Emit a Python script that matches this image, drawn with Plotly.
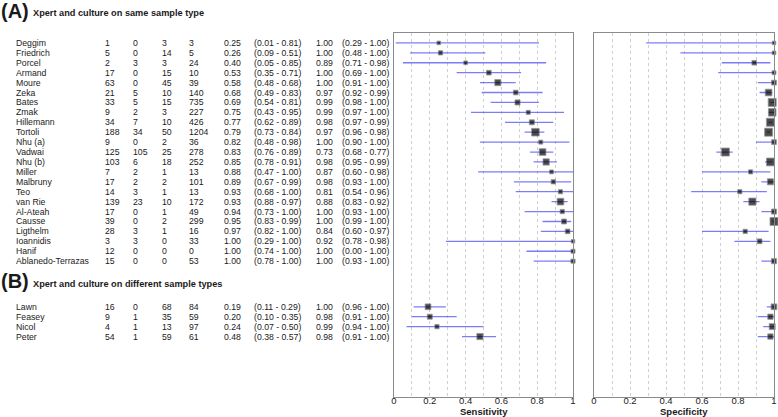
import math
import plotly.graph_objects as go

# ---------------- data ----------------
study_a = ["Deggim", "Friedrich", "Porcel", "Armand", "Moure", "Zeka", "Bates", "Zmak",
           "Hillemann", "Tortoli", "Nhu (a)", "Vadwai", "Nhu (b)", "Miller", "Malbruny",
           "Teo", "van Rie", "Al-Ateah", "Causse", "Ligthelm", "Ioannidis", "Hanif",
           "Ablanedo-Terrazas"]
tp_a = [1, 5, 2, 17, 63, 21, 33, 9, 34, 188, 9, 125, 103, 7, 17, 14, 139, 17, 39, 28, 3, 12, 15]
fp_a = [0, 0, 3, 0, 0, 5, 5, 2, 7, 34, 0, 105, 6, 2, 2, 3, 23, 0, 0, 3, 3, 0, 0]
fn_a = [3, 14, 3, 15, 45, 10, 15, 3, 10, 50, 2, 25, 18, 1, 2, 1, 10, 1, 2, 1, 0, 0, 0]
tn_a = [3, 5, 24, 10, 39, 140, 735, 227, 426, 1204, 36, 278, 252, 13, 101, 13, 172, 49, 299, 16, 33, 0, 53]
sens_a = [0.25, 0.26, 0.40, 0.53, 0.58, 0.68, 0.69, 0.75, 0.77, 0.79, 0.82, 0.83, 0.85, 0.88, 0.89,
          0.93, 0.93, 0.94, 0.95, 0.97, 1.00, 1.00, 1.00]
sens_lo_a = [0.01, 0.09, 0.05, 0.35, 0.48, 0.49, 0.54, 0.43, 0.62, 0.73, 0.48, 0.76, 0.78, 0.47, 0.67,
             0.68, 0.88, 0.73, 0.83, 0.82, 0.29, 0.74, 0.78]
sens_hi_a = [0.81, 0.51, 0.85, 0.71, 0.68, 0.83, 0.81, 0.95, 0.89, 0.84, 0.98, 0.89, 0.91, 1.00, 0.99,
             1.00, 0.97, 1.00, 0.99, 1.00, 1.00, 1.00, 1.00]
spec_a = [1.00, 1.00, 0.89, 1.00, 1.00, 0.97, 0.99, 0.99, 0.98, 0.97, 1.00, 0.73, 0.98, 0.87, 0.98,
          0.81, 0.88, 1.00, 1.00, 0.84, 0.92, 1.00, 1.00]
spec_lo_a = [0.29, 0.48, 0.71, 0.69, 0.91, 0.92, 0.98, 0.97, 0.97, 0.96, 0.90, 0.68, 0.95, 0.60, 0.93,
             0.54, 0.83, 0.93, 0.99, 0.60, 0.78, 0.00, 0.93]
spec_hi_a = [1.00, 1.00, 0.98, 1.00, 1.00, 0.99, 1.00, 1.00, 0.99, 0.98, 1.00, 0.77, 0.99, 0.98, 1.00,
             0.96, 0.92, 1.00, 1.00, 0.97, 0.98, 1.00, 1.00]

study_b = ["Lawn", "Feasey", "Nicol", "Peter"]
tp_b = [16, 9, 4, 54]
fp_b = [0, 1, 1, 1]
fn_b = [68, 35, 13, 59]
tn_b = [84, 59, 97, 61]
sens_b = [0.19, 0.20, 0.24, 0.48]
sens_lo_b = [0.11, 0.10, 0.07, 0.38]
sens_hi_b = [0.29, 0.35, 0.50, 0.57]
spec_b = [1.00, 0.98, 0.99, 0.98]
spec_lo_b = [0.96, 0.91, 0.94, 0.91]
spec_hi_b = [1.00, 1.00, 1.00, 1.00]

header_cols = ["TP", "FP", "FN", "TN", "Sensitivity (95% CI)", "Specificity (95% CI)"]
title_a = "Xpert and culture on same sample type"
title_b = "Xpert and culture on different sample types"
axis_titles = ["Sensitivity", "Specificity"]
tick_vals = [0, 0.2, 0.4, 0.6, 0.8, 1]
tick_text = ["0", "0.2", "0.4", "0.6", "0.8", "1"]

# ---------------- layout helpers ----------------
W, H = 778, 417
FONT = "Liberation Sans, Arial, sans-serif"
TXT = "#1a1a1a"
CI_COLOR = "rgba(80,80,245,0.75)"
FRAME = "#8a8a8a"
GRID = "#cfcfcf"


def fx(p):
    return p / W


def fy(p):
    return 1 - p / H


panel_top, panel_bot = 33, 396.5
row_h = 9.92
y_range = [(panel_bot - panel_top) / row_h, 0]

ys_a = [1 + i for i in range(len(study_a))]
ys_b = [27.6 + j for j in range(len(study_b))]

names = study_a + study_b
tp = tp_a + tp_b
fp = fp_a + fp_b
fn = fn_a + fn_b
tn = tn_a + tn_b
sens = sens_a + sens_b
sens_lo = sens_lo_a + sens_lo_b
sens_hi = sens_hi_a + sens_hi_b
spec = spec_a + spec_b
spec_lo = spec_lo_a + spec_lo_b
spec_hi = spec_hi_a + spec_hi_b
ys = ys_a + ys_b


def msize(n):
    return min(8.0, 3.0 + 0.3 * math.sqrt(n))


MARKER_LINE = dict(color="#6a6a6a", width=0.8)

fig = go.Figure()

# sensitivity panel
fig.add_trace(go.Scatter(
    x=sens, y=ys, mode="markers", xaxis="x", yaxis="y", cliponaxis=False,
    marker=dict(symbol="square", color="black",
                size=[msize(a + b) for a, b in zip(tp, fn)], line=MARKER_LINE),
    error_x=dict(type="data", symmetric=False,
                 array=[h - s for h, s in zip(sens_hi, sens)],
                 arrayminus=[s - l for s, l in zip(sens, sens_lo)],
                 color=CI_COLOR, thickness=1.3, width=0),
    hoverinfo="skip", showlegend=False))

# specificity panel (undefined when there are no culture-negatives)
sp_x, sp_y, sp_sz, sp_up, sp_dn = [], [], [], [], []
for s, l, h, a, b, y in zip(spec, spec_lo, spec_hi, fp, tn, ys):
    if a + b == 0:
        continue
    sp_x.append(s)
    sp_y.append(y)
    sp_sz.append(msize(a + b))
    sp_up.append(h - s)
    sp_dn.append(s - l)
fig.add_trace(go.Scatter(
    x=sp_x, y=sp_y, mode="markers", xaxis="x2", yaxis="y2", cliponaxis=False,
    marker=dict(symbol="square", color="black", size=sp_sz, line=MARKER_LINE),
    error_x=dict(type="data", symmetric=False, array=sp_up, arrayminus=sp_dn,
                 color=CI_COLOR, thickness=1.3, width=0),
    hoverinfo="skip", showlegend=False))

xaxis_common = dict(
    range=[0, 1], showline=True, mirror=True, linecolor=FRAME, linewidth=1.2,
    showgrid=True, gridcolor=GRID, griddash="dot", gridwidth=1,
    tickvals=tick_vals, ticktext=tick_text, ticks="", zeroline=False,
    tickfont=dict(family=FONT, size=9.5, color=TXT), ticklabelstandoff=-5,
    minor=dict(dtick=0.1, tick0=0, showgrid=True, gridcolor=GRID, griddash="dot", gridwidth=1),
    automargin=False, fixedrange=True,
)
yaxis_common = dict(
    range=y_range, domain=[fy(panel_bot), fy(panel_top)], showline=True, mirror=True,
    linecolor=FRAME, linewidth=1.2, showgrid=False, zeroline=False,
    showticklabels=False, ticks="", automargin=False, fixedrange=True,
)

sens_dom = [fx(394), fx(573)]
spec_dom = [fx(594), fx(774)]

fig.update_layout(
    width=W, height=H, margin=dict(l=0, r=0, t=0, b=0),
    paper_bgcolor="white", plot_bgcolor="white",
    xaxis=dict(domain=sens_dom, anchor="y", **xaxis_common),
    xaxis2=dict(domain=spec_dom, anchor="y2", **xaxis_common),
    yaxis=dict(anchor="x", **yaxis_common),
    yaxis2=dict(anchor="x2", matches="y", **yaxis_common),
    showlegend=False,
)

ann = []
FS = 8.7


def txt(x, y, t, bold=False, size=FS, yref="y", xanchor="left", xref="paper"):
    ann.append(dict(x=x if xref != "paper" else fx(x), y=y, xref=xref, yref=yref,
                    text=("<b>%s</b>" % t) if bold else t,
                    showarrow=False, xanchor=xanchor, yanchor="middle",
                    font=dict(family=FONT, size=size, color=TXT)))


# titles
txt(-1, fy(11), "(A)", bold=True, size=20, yref="paper")
txt(31, fy(13), title_a, bold=True, size=9.2, yref="paper")
txt(-1, fy(281), "(B)", bold=True, size=20, yref="paper")
txt(31, fy(283.5), title_b, bold=True, size=9.2, yref="paper")

# axis titles (below the tick labels)
ann.append(dict(x=0.5, y=fy(411.5), xref="x domain", yref="paper", text="<b>%s</b>" % axis_titles[0],
                showarrow=False, xanchor="center", yanchor="middle",
                font=dict(family=FONT, size=9.5, color=TXT)))
ann.append(dict(x=0.5, y=fy(411.5), xref="x2 domain", yref="paper", text="<b>%s</b>" % axis_titles[1],
                showarrow=False, xanchor="center", yanchor="middle",
                font=dict(family=FONT, size=9.5, color=TXT)))

# header
hx = [103, 131, 159, 186, 218, 306]
hy = (29 - panel_top) / row_h
for x, t in zip(hx, header_cols):
    txt(x, hy, t, bold=True)

# table rows
for i in range(len(names)):
    y = ys[i]
    txt(14, y, names[i])
    txt(103, y, str(tp[i]))
    txt(131, y, str(fp[i]))
    txt(159.5, y, str(fn[i]))
    txt(187, y, str(tn[i]))
    txt(222, y, "%.2f" % sens[i])
    txt(252, y, "(%.2f - %.2f)" % (sens_lo[i], sens_hi[i]))
    txt(314, y, "%.2f" % spec[i])
    txt(340, y, "(%.2f - %.2f)" % (spec_lo[i], spec_hi[i]))

fig.update_layout(annotations=ann)

fig.write_html("out.html", config={"displayModeBar": False},
               post_script="document.body.style.margin='0';document.body.style.overflow='hidden';")
